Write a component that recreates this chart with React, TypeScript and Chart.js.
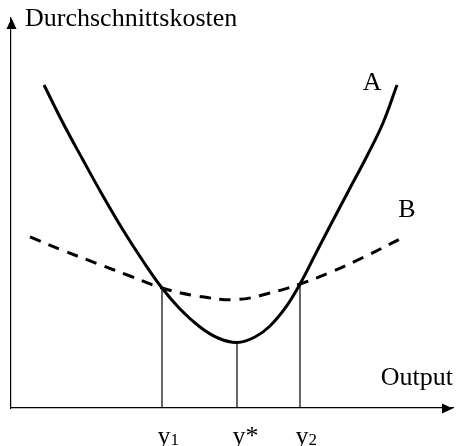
import { useEffect, useRef } from "react";
import { Chart, registerables } from "chart.js";

Chart.register(...registerables);

// Curve A (solid): output vs. average cost
const curveAX = [7.47, 11.76, 16.29, 20.81, 25.34, 29.86, 34.16, 38.24, 42.76, 46.83, 51.13, 55.2, 58.6, 62.22, 65.38, 68.78, 72.17, 76.47, 80.54, 84.16, 87.33];
const curveAY = [82.82, 73.08, 63.59, 54.36, 45.64, 37.69, 30.77, 25.38, 20.77, 17.95, 16.79, 18.21, 21.03, 25.9, 31.79, 39.23, 46.67, 55.9, 64.62, 73.08, 82.82];

// Curve B (dashed)
const curveBX = [4.3, 11.76, 19.46, 26.92, 34.16, 42.08, 51.13, 58.6, 65.38, 72.17, 79.64, 88.46];
const curveBY = [43.85, 40.38, 37.05, 33.85, 30.77, 28.72, 27.82, 29.49, 31.79, 34.74, 38.59, 43.59];

// Marked outputs y1, y*, y2 and the cost level where each guide line stops
const markerX = [34.16, 51.13, 65.38];
const markerTop = [30.77, 16.79, 31.79];
const markerBase = ["y", "y", "y"];
const markerSuffix = ["1", "*", "2"];

const seriesNames = ["A", "B"];
const yAxisTitle = "Durchschnittskosten";
const xAxisTitle = "Output";

const FONT = '"Liberation Serif", "Times New Roman", serif';

export default function App() {
  const ref = useRef<HTMLCanvasElement | null>(null);

  useEffect(() => {
    if (!ref.current) return;

    const toPts = (xs: number[], ys: number[]) => xs.map((x, i) => ({ x, y: ys[i] }));

    const guideSets = markerX.map((x, i) => ({
      label: "guide" + i,
      data: [
        { x, y: 0 },
        { x, y: markerTop[i] },
      ],
      borderColor: "#000",
      borderWidth: 1.2,
      pointRadius: 0,
      tension: 0,
      fill: false,
    }));

    const overlay = {
      id: "overlay",
      afterDraw(chart: any) {
        const { ctx, chartArea, scales } = chart;
        const xs = scales.x;
        const ys = scales.y;
        const left = chartArea.left + 0.5;
        const bottom = chartArea.bottom + 0.5;
        ctx.save();
        ctx.fillStyle = "#000";
        // y arrow
        ctx.beginPath();
        ctx.moveTo(left, chartArea.top);
        ctx.lineTo(left - 5, chartArea.top + 11);
        ctx.lineTo(left + 5, chartArea.top + 11);
        ctx.closePath();
        ctx.fill();
        // x arrow
        ctx.beginPath();
        ctx.moveTo(chartArea.right, bottom);
        ctx.lineTo(chartArea.right - 11, bottom - 5);
        ctx.lineTo(chartArea.right - 11, bottom + 5);
        ctx.closePath();
        ctx.fill();

        ctx.textBaseline = "alphabetic";
        ctx.textAlign = "left";
        ctx.font = `26px ${FONT}`;
        ctx.fillText(yAxisTitle, chartArea.left + 14, chartArea.top + 8);
        ctx.textAlign = "right";
        ctx.fillText(xAxisTitle, chartArea.right, chartArea.bottom - 23);
        ctx.textAlign = "left";
        // series labels
        ctx.fillText(seriesNames[0], xs.getPixelForValue(79.6), ys.getPixelForValue(81.5));
        ctx.fillText(seriesNames[1], xs.getPixelForValue(87.6), ys.getPixelForValue(49.0));

        // tick labels
        markerX.forEach((v, i) => {
          const px = xs.getPixelForValue(v) - 4.5;
          const base = chartArea.bottom + 36;
          ctx.font = `26px ${FONT}`;
          ctx.fillText(markerBase[i], px, base);
          const w = ctx.measureText(markerBase[i]).width;
          if (markerSuffix[i] === "*") {
            ctx.fillText(markerSuffix[i], px + w, base);
          } else {
            ctx.font = `17px ${FONT}`;
            ctx.fillText(markerSuffix[i], px + w, base + 1);
          }
        });
        ctx.restore();
      },
    };

    const chart = new Chart(ref.current, {
      type: "line",
      data: {
        datasets: [
          {
            label: seriesNames[0],
            data: toPts(curveAX, curveAY),
            borderColor: "#000",
            borderWidth: 3,
            pointRadius: 0,
            tension: 0.4,
            fill: false,
          },
          {
            label: seriesNames[1],
            data: toPts(curveBX, curveBY),
            borderColor: "#000",
            borderWidth: 3,
            borderDash: [11.5, 8.5],
            pointRadius: 0,
            tension: 0.4,
            fill: false,
          },
          ...guideSets,
        ],
      },
      options: {
        animation: false,
        responsive: true,
        maintainAspectRatio: false,
        events: [],
        layout: { padding: { left: 11, right: 3, top: 18, bottom: 38 } },
        plugins: {
          legend: { display: false },
          tooltip: { enabled: false },
          title: { display: false },
        },
        scales: {
          x: {
            type: "linear",
            min: 0,
            max: 100,
            grid: { display: false, drawTicks: false },
            ticks: { display: false },
            border: { display: true, color: "#000", width: 1.2 },
          },
          y: {
            type: "linear",
            min: 0,
            max: 100,
            grid: { display: false, drawTicks: false },
            ticks: { display: false },
            border: { display: true, color: "#000", width: 1.2 },
          },
        },
      },
      plugins: [overlay],
    });

    return () => chart.destroy();
  }, []);

  return (
    <div style={{ position: "fixed", left: 0, top: 0, width: 456, height: 446, background: "#fff" }}>
      <canvas ref={ref} />
    </div>
  );
}
